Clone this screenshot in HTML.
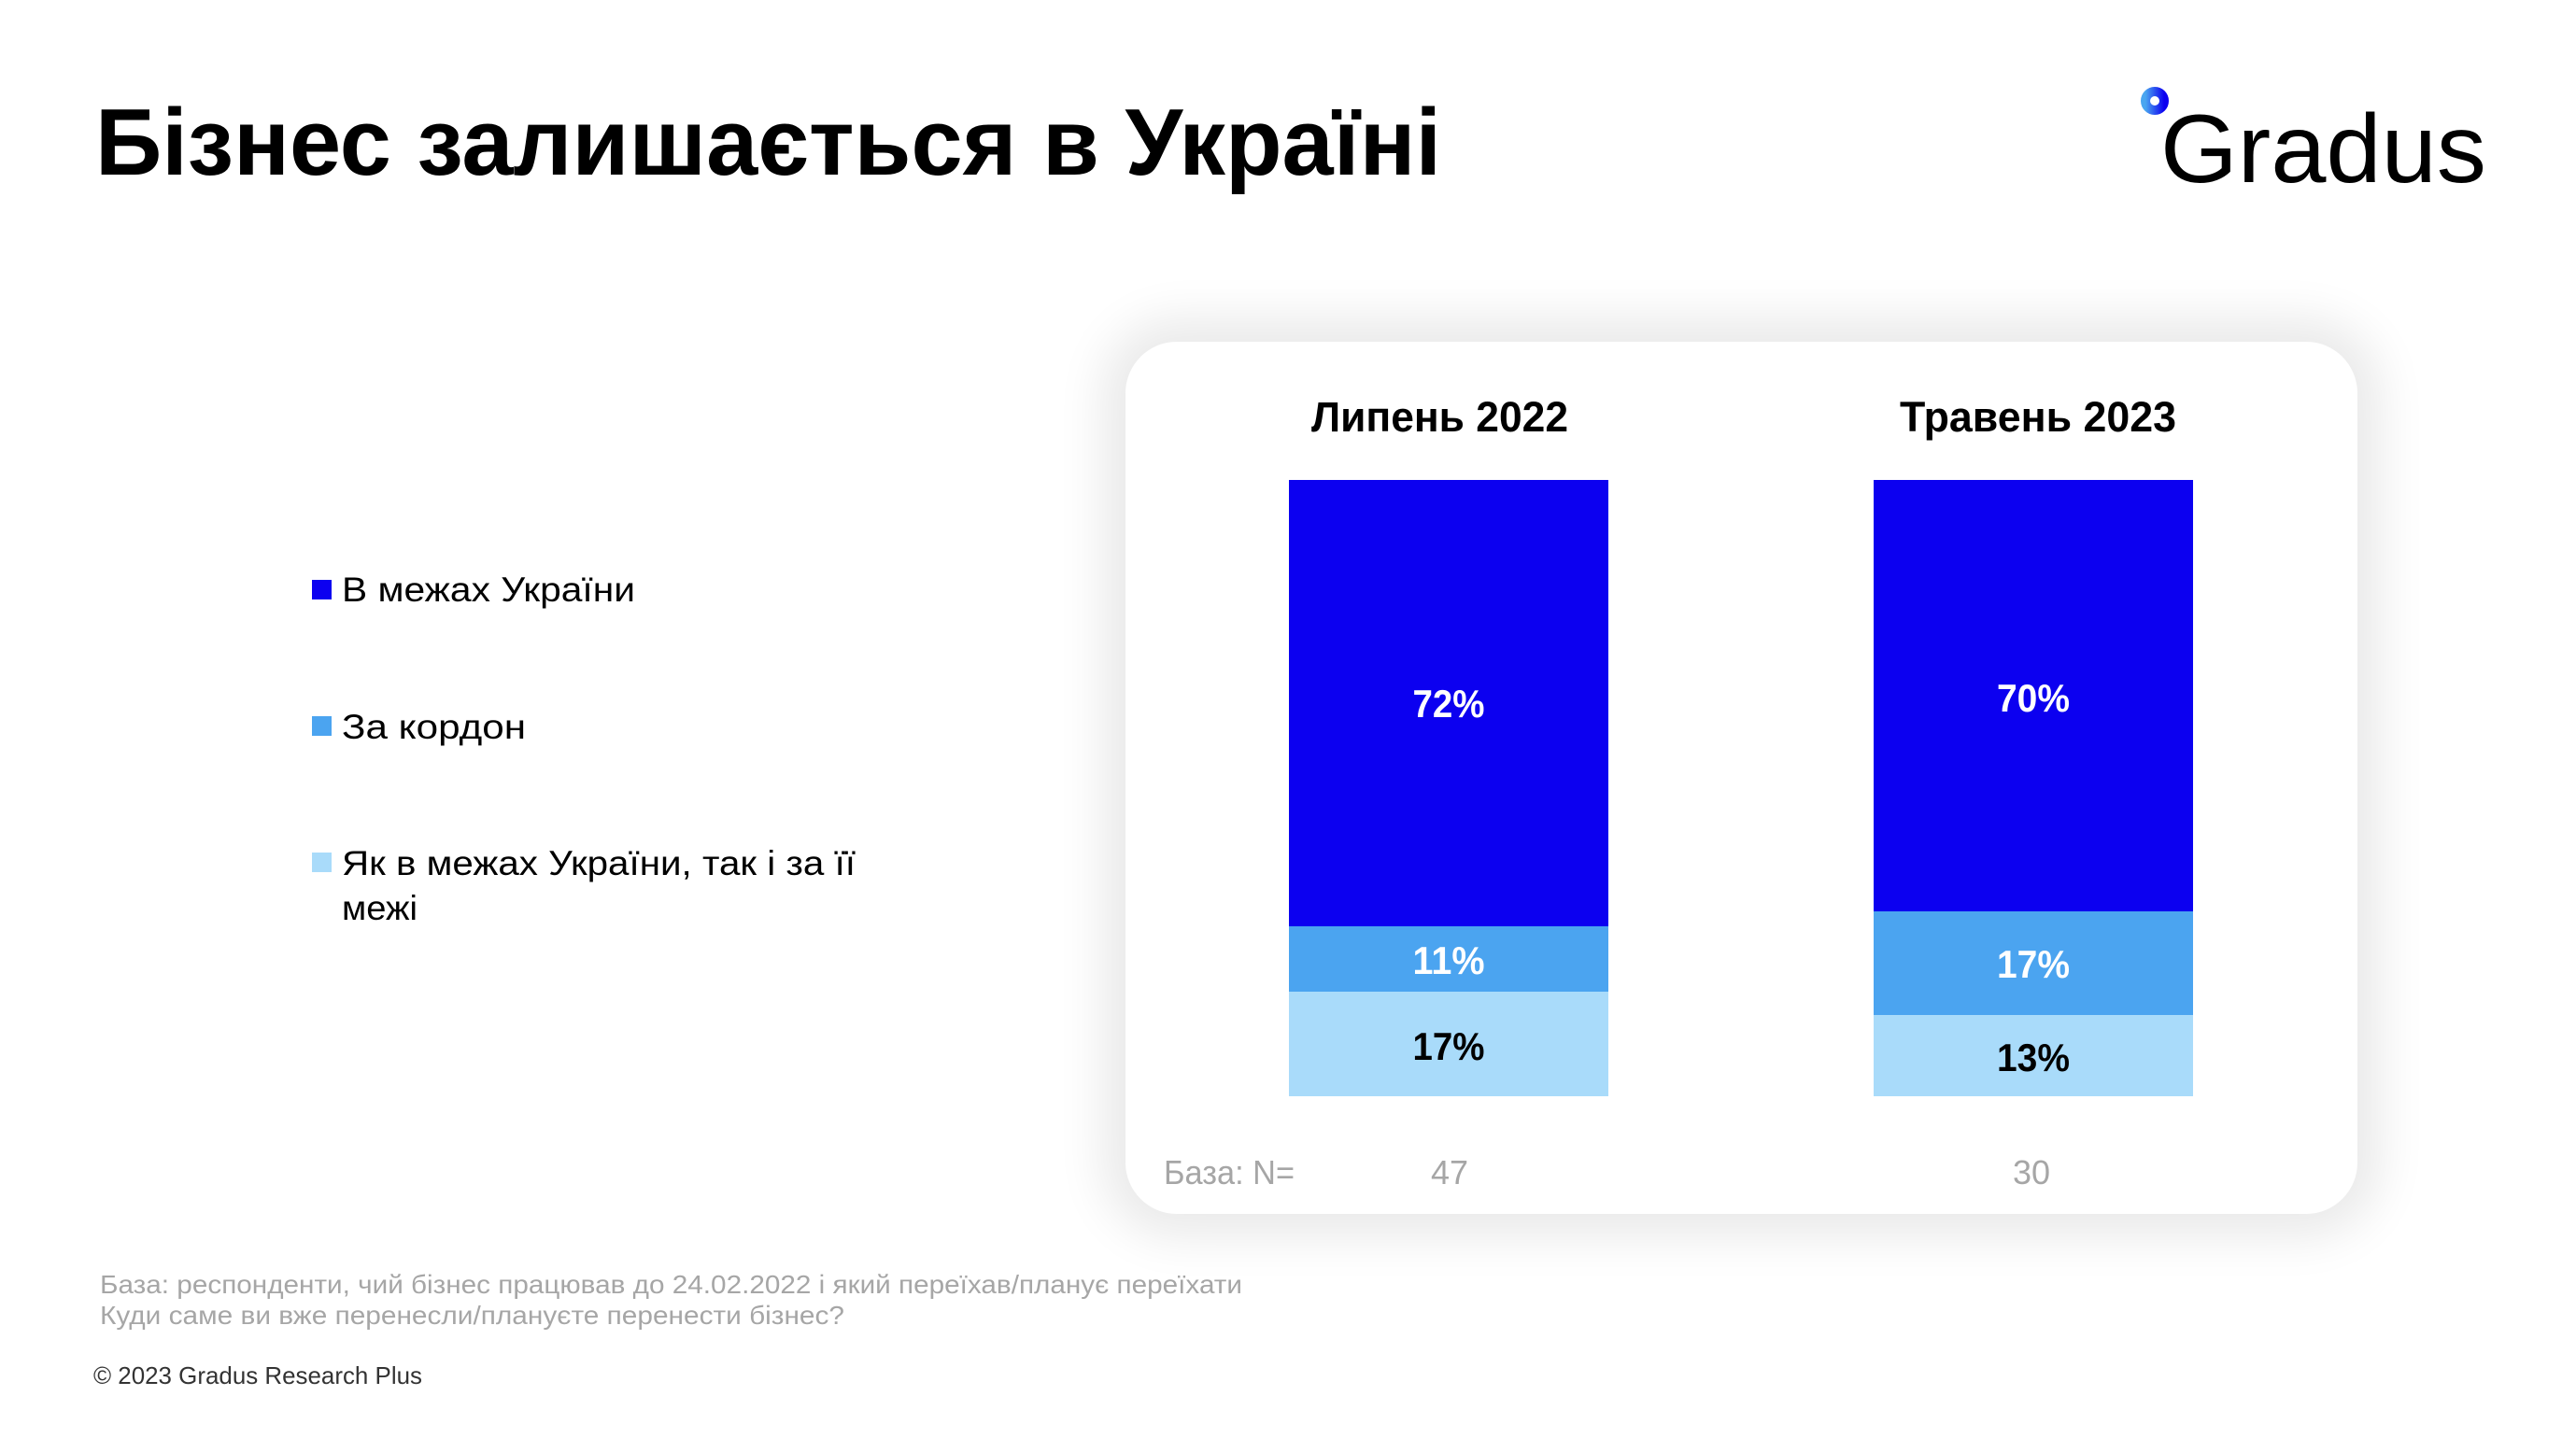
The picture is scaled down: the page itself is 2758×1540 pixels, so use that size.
<!DOCTYPE html>
<html>
<head>
<meta charset="utf-8">
<style>
  html, body { margin:0; padding:0; background:#ffffff; }
  body { width:2758px; height:1540px; position:relative; overflow:hidden; font-family:"Liberation Sans", "Noto Sans CJK SC", sans-serif; }
  .card { position:absolute; left:1205px; top:366px; width:1319px; height:934px; background:#ffffff; border-radius:55px; box-shadow:0 0 50px 25px rgba(0,0,0,0.085); }
  svg { position:absolute; left:0; top:0; }
</style>
</head>
<body>
<div class="card"></div>
<svg width="2758" height="1540" viewBox="0 0 2758 1540" xmlns="http://www.w3.org/2000/svg" font-family="Liberation Sans, sans-serif">
  <defs>
    <linearGradient id="lg" x1="0" y1="0" x2="1" y2="0">
      <stop offset="0" stop-color="#4aa6f0"/>
      <stop offset="1" stop-color="#0c00f0"/>
    </linearGradient>
  </defs>

  <!-- Title -->
  <text x="102" y="187" font-size="101" font-weight="bold" fill="#000" textLength="1441" lengthAdjust="spacingAndGlyphs">Бізнес залишається в Україні</text>

  <!-- Logo -->
  <circle cx="2307" cy="108" r="10" fill="none" stroke="url(#lg)" stroke-width="10"/>
  <text x="2313" y="195" font-size="104" fill="#000" textLength="349" lengthAdjust="spacingAndGlyphs">Gradus</text>

  <!-- Legend -->
  <rect x="334" y="621" width="21" height="21" fill="#0c00f0"/>
  <text x="366" y="644" font-size="37" fill="#000" textLength="314" lengthAdjust="spacingAndGlyphs">В межах України</text>
  <rect x="334" y="767" width="21" height="21" fill="#4ba4f0"/>
  <text x="366" y="791" font-size="37" fill="#000" textLength="197" lengthAdjust="spacingAndGlyphs">За кордон</text>
  <rect x="334" y="913" width="21" height="21" fill="#a9dbfa"/>
  <text x="366" y="937" font-size="37" fill="#000" textLength="550" lengthAdjust="spacingAndGlyphs">Як в межах України, так і за її</text>
  <text x="366" y="985" font-size="37" fill="#000" textLength="81" lengthAdjust="spacingAndGlyphs">межі</text>

  <!-- Column headers -->
  <text x="1404" y="462" font-size="45" font-weight="bold" fill="#000" textLength="275" lengthAdjust="spacingAndGlyphs">Липень 2022</text>
  <text x="2034" y="462" font-size="45" font-weight="bold" fill="#000" textLength="296" lengthAdjust="spacingAndGlyphs">Травень 2023</text>

  <!-- Bar 1 -->
  <rect x="1380" y="514" width="342" height="478" fill="#0c00f0"/>
  <rect x="1380" y="992" width="342" height="70" fill="#4ba4f0"/>
  <rect x="1380" y="1062" width="342" height="112" fill="#a9dbfa"/>
  <text x="1551" y="768" font-size="42" font-weight="bold" fill="#fff" text-anchor="middle" textLength="77" lengthAdjust="spacingAndGlyphs">72%</text>
  <text x="1551" y="1043" font-size="42" font-weight="bold" fill="#fff" text-anchor="middle" textLength="77" lengthAdjust="spacingAndGlyphs">11%</text>
  <text x="1551" y="1135" font-size="42" font-weight="bold" fill="#000" text-anchor="middle" textLength="77" lengthAdjust="spacingAndGlyphs">17%</text>

  <!-- Bar 2 -->
  <rect x="2006" y="514" width="342" height="462" fill="#0c00f0"/>
  <rect x="2006" y="976" width="342" height="111" fill="#4ba4f0"/>
  <rect x="2006" y="1087" width="342" height="87" fill="#a9dbfa"/>
  <text x="2177" y="762" font-size="42" font-weight="bold" fill="#fff" text-anchor="middle" textLength="78" lengthAdjust="spacingAndGlyphs">70%</text>
  <text x="2177" y="1047" font-size="42" font-weight="bold" fill="#fff" text-anchor="middle" textLength="78" lengthAdjust="spacingAndGlyphs">17%</text>
  <text x="2177" y="1147" font-size="42" font-weight="bold" fill="#000" text-anchor="middle" textLength="78" lengthAdjust="spacingAndGlyphs">13%</text>

  <!-- Base row -->
  <text x="1246" y="1268" font-size="36" fill="#a6a6a6" textLength="140" lengthAdjust="spacingAndGlyphs">База: N=</text>
  <text x="1552" y="1268" font-size="36" fill="#a6a6a6" text-anchor="middle">47</text>
  <text x="2175" y="1268" font-size="36" fill="#a6a6a6" text-anchor="middle">30</text>

  <!-- Footer -->
  <text x="107" y="1385" font-size="28" fill="#a6a6a6" textLength="1223" lengthAdjust="spacingAndGlyphs">База: респонденти, чий бізнес працював до 24.02.2022 і який переїхав/планує переїхати</text>
  <text x="107" y="1418" font-size="28" fill="#a6a6a6" textLength="797" lengthAdjust="spacingAndGlyphs">Куди саме ви вже перенесли/плануєте перенести бізнес?</text>
  <text x="100" y="1482" font-size="26" fill="#333333" textLength="352" lengthAdjust="spacingAndGlyphs">© 2023 Gradus Research Plus</text>
</svg>
</body>
</html>
